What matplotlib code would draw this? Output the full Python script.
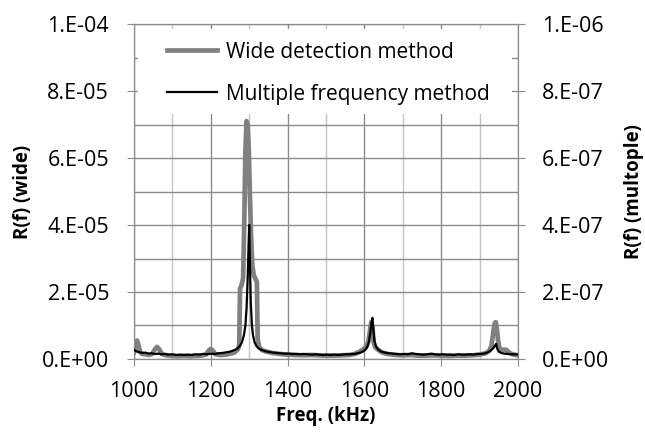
import numpy as np
import matplotlib
matplotlib.use('Agg')
import matplotlib.pyplot as plt
from matplotlib.patches import Rectangle
from matplotlib.ticker import MultipleLocator, FuncFormatter

# wide detection method, R(f) in units of 1e-6 (left axis)
wide_freq = [1000, 1004, 1008, 1012, 1016, 1022, 1030, 1040, 1048, 1055, 1060, 1065, 1072, 1080,
             1090, 1100, 1115, 1130, 1145, 1160, 1175, 1188, 1195, 1200, 1205, 1212, 1225, 1240,
             1252, 1262, 1270, 1274, 1276, 1280, 1284, 1287, 1290, 1293, 1296, 1299, 1302, 1305,
             1308, 1312, 1316, 1320, 1322, 1326, 1334, 1345, 1360, 1380, 1400, 1420, 1440, 1460,
             1480, 1500, 1520, 1540, 1560, 1575, 1588, 1598, 1606, 1611, 1615, 1618, 1621, 1624,
             1628, 1635, 1645, 1660, 1680, 1700, 1720, 1740, 1760, 1780, 1800, 1820, 1840, 1860,
             1880, 1900, 1915, 1925, 1931, 1935, 1939, 1942, 1945, 1948, 1952, 1958, 1964, 1970,
             1976, 1985, 1995, 2000]
wide_val = [2.0, 4.5, 5.5, 4.0, 2.0, 1.5, 1.4, 1.2, 1.6, 3.0, 3.6, 3.0, 1.6, 1.2,
            1.0, 0.9, 0.8, 0.9, 0.8, 0.9, 1.0, 1.4, 2.6, 3.0, 2.5, 1.4, 1.2, 1.3,
            1.6, 2.0, 2.8, 4.0, 21, 22, 24, 40, 62, 71, 70, 62, 48, 36,
            28, 25, 24, 23, 6, 3.5, 2.6, 2.2, 1.8, 1.5, 1.3, 1.2, 1.1, 1.2,
            1.1, 1.0, 1.0, 1.1, 1.2, 1.5, 2.2, 3.0, 3.8, 5.5, 9.0, 11.0, 9.5, 5.0,
            3.5, 2.8, 2.0, 1.5, 1.2, 1.1, 1.2, 1.0, 1.0, 1.1, 1.0, 0.9, 1.0, 1.0,
            1.1, 1.3, 1.7, 2.4, 4.0, 7.5, 10.5, 11.0, 9.0, 5.5, 3.2, 2.6, 2.8, 2.7,
            2.0, 1.4, 1.2, 1.1]

# multiple frequency method, R(f) in units of 1e-8 (right axis)
multi_freq = [1000, 1003, 1008, 1015, 1022, 1030, 1038, 1046, 1055, 1064, 1072, 1080, 1090, 1100,
              1110, 1120, 1130, 1140, 1150, 1160, 1170, 1180, 1190, 1200, 1210, 1220, 1230, 1240,
              1250, 1260, 1268, 1275, 1281, 1286, 1290, 1293, 1296, 1298, 1300, 1302, 1304, 1307,
              1310, 1314, 1318, 1324, 1332, 1342, 1352, 1362, 1372, 1382, 1392, 1402, 1412, 1422,
              1432, 1442, 1452, 1462, 1472, 1482, 1492, 1502, 1512, 1522, 1532, 1542, 1552, 1562,
              1572, 1582, 1592, 1600, 1606, 1611, 1615, 1618, 1621, 1623, 1626, 1630, 1636, 1644,
              1654, 1664, 1674, 1684, 1694, 1704, 1714, 1724, 1734, 1744, 1754, 1764, 1774, 1784,
              1794, 1804, 1814, 1824, 1834, 1844, 1854, 1864, 1874, 1884, 1894, 1904, 1914, 1922,
              1930, 1936, 1940, 1943, 1946, 1950, 1956, 1964, 1974, 1984, 1994, 2000]
multi_val = [2.8, 2.5, 2.2, 2.0, 1.8, 1.9, 1.6, 1.7, 1.5, 1.6, 1.4, 1.5, 1.3, 1.4,
             1.2, 1.3, 1.2, 1.3, 1.2, 1.4, 1.3, 1.5, 1.4, 1.6, 1.5, 1.7, 1.8, 2.0,
             2.2, 2.6, 3.0, 3.8, 5.0, 7.0, 10, 15, 24, 33, 40, 28, 17, 10,
             7, 5, 4.0, 3.2, 2.7, 2.3, 2.1, 1.9, 1.8, 1.7, 1.6, 1.6, 1.5, 1.5,
             1.4, 1.5, 1.4, 1.3, 1.4, 1.3, 1.2, 1.3, 1.2, 1.3, 1.2, 1.3, 1.4, 1.4,
             1.5, 1.7, 2.0, 2.5, 3.3, 4.8, 7.5, 10.5, 12.3, 9.0, 5.5, 3.8, 2.8, 2.2,
             1.9, 1.7, 1.6, 1.5, 1.4, 1.5, 1.4, 1.7, 1.5, 1.4, 1.3, 1.4, 1.6, 1.4,
             1.3, 1.4, 1.3, 1.3, 1.2, 1.4, 1.3, 1.3, 1.4, 1.3, 1.5, 1.5, 1.7, 2.0,
             2.6, 3.3, 4.0, 4.5, 3.0, 2.2, 1.8, 1.6, 1.5, 1.4, 1.4, 1.3]

GRID_DARK = '#8c8c8c'
GRID_LIGHT = '#c4c4c4'


def excel_sci(v, pos):
  s = '%.0E' % v
  return s[0] + '.' + s[1:]


def main():
  plt.rcParams['font.family'] = ['Open Sans', 'DejaVu Sans']
  fig = plt.figure(figsize=(6.45, 4.32), dpi=100)
  ax = fig.add_axes([0.2078, 0.169, 0.5953, 0.7754])
  ax2 = ax.twinx()

  wide = np.array(wide_val) * 1e-6
  multi = np.array(multi_val) * 1e-8

  l1, = ax.plot(wide_freq, wide, color='#808080', lw=3.4, solid_joinstyle='round',
                label='Wide detection method', zorder=3)
  l2, = ax2.plot(multi_freq, multi, color='black', lw=1.6,
                 label='Multiple frequency method', zorder=3)

  ax.set_xlim(1000, 2000)
  ax.set_ylim(0, 1e-4)
  ax2.set_ylim(0, 1e-6)

  ax.xaxis.set_major_locator(MultipleLocator(200))
  ax.xaxis.set_minor_locator(MultipleLocator(100))
  ax.yaxis.set_major_locator(MultipleLocator(2e-5))
  ax.yaxis.set_minor_locator(MultipleLocator(1e-5))
  ax2.yaxis.set_major_locator(MultipleLocator(2e-7))
  ax.yaxis.set_major_formatter(FuncFormatter(excel_sci))
  ax2.yaxis.set_major_formatter(FuncFormatter(excel_sci))

  ax.grid(which='major', axis='x', color=GRID_DARK, lw=1.0)
  ax.grid(which='minor', axis='x', color=GRID_LIGHT, lw=1.0)
  ax.grid(which='both', axis='y', color=GRID_DARK, lw=1.0)

  for a in (ax, ax2):
    for sp in a.spines.values():
      sp.set_color(GRID_DARK)
  ax.tick_params(which='major', axis='both', length=5, color=GRID_DARK, labelsize=15.5)
  ax.tick_params(which='major', axis='y', pad=13)
  ax.tick_params(which='major', axis='x', pad=11)
  ax.tick_params(which='minor', length=0)
  ax2.tick_params(which='major', axis='y', length=5, color=GRID_DARK, labelsize=15.5, pad=12)
  ax2.tick_params(which='minor', length=0)

  ax.set_xlabel('Freq. (kHz)', fontsize=13.5, fontweight='bold', labelpad=3)
  ax.set_ylabel('R(f) (wide)', fontsize=13.5, fontweight='bold', labelpad=6)
  ax2.set_ylabel('R(f) (multople)', fontsize=13.5, fontweight='bold', labelpad=11)

  # white block behind the legend hides the grid there
  ax.add_patch(Rectangle((0.01, 0.73), 0.975, 0.255, transform=ax.transAxes,
                         facecolor='white', edgecolor='none', zorder=2))

  ax2.legend([l1, l2], ['Wide detection method', 'Multiple frequency method'],
             loc='upper left', bbox_to_anchor=(0.086, 0.947), frameon=False,
             fontsize=15, borderpad=0, borderaxespad=0, handlelength=2.4,
             handletextpad=0.45, labelspacing=1.0)

  fig.savefig('out.png', dpi=100)


if __name__ == '__main__':
  main()
